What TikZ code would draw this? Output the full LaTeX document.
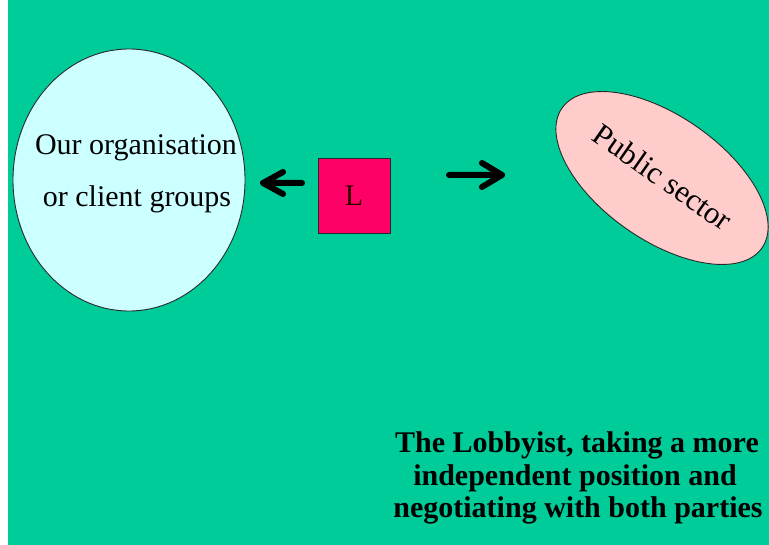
\documentclass[tikz,border=0pt]{standalone}
\usepackage{fontspec}
\setmainfont{Liberation Serif}
\usetikzlibrary{shapes.geometric,arrows.meta}
\definecolor{bggreen}{RGB}{0,204,153}
\definecolor{lcyan}{RGB}{204,255,255}
\definecolor{lpink}{RGB}{255,204,204}
\definecolor{lred}{RGB}{255,0,102}
\definecolor{edge}{RGB}{40,40,40}
\tikzset{
  blob/.style={ellipse,draw=edge,line width=0.9pt,inner sep=0pt},
  lbl/.style={inner sep=0pt,anchor=base,font=\fontsize{30}{30}\selectfont},
  bodytxt/.style={inner sep=0pt,anchor=base,font=\fontsize{30}{30}\selectfont\bfseries},
  bigarrow/.style={line width=6pt,line cap=round,line join=round,draw=black}
}
\begin{document}
\begin{tikzpicture}[x=1pt,y=-1pt]
\useasboundingbox (0,0) rectangle (769,545);
\fill[white] (0,0) rectangle (769,545);
\fill[bggreen] (8,0) rectangle (769,545);
% left ellipse
\node[blob,fill=lcyan,minimum width=232pt,minimum height=262pt] (org) at (129,180) {};
\node[lbl] (orgA) at (136,155) {Our organisation};
\node[lbl] (orgB) at (137,207) {or client groups};
% lobbyist box
\node[draw=edge,line width=0.9pt,fill=lred,minimum width=72pt,minimum height=75pt,inner sep=0pt,
      font=\fontsize{30}{30}\selectfont,text=black!80!red] (L) at (354,195.5) {L};
% public sector
\node[blob,fill=lpink,minimum width=244pt,minimum height=124pt,rotate=-35] (pub) at (662,178) {};
\node[inner sep=0pt,rotate=-35,font=\fontsize{31}{31}\selectfont] (pubT) at (663,177) {Public sector};
% arrows
\coordinate (la1) at (302,183);
\coordinate (la2) at (263,183);
\coordinate (ra1) at (449,175);
\coordinate (ra2) at (502,175);
\draw[bigarrow] (la1) -- (la2) -- ++(20,-11) (la2) -- ++(20,11);
\draw[bigarrow] (ra1) -- (ra2) -- ++(-20,-12) (ra2) -- ++(-20,12);
% bottom text
\node[bodytxt] (t1) at (577,453) {The Lobbyist, taking a more};
\node[bodytxt] (t2) at (575,485) {independent position and};
\node[bodytxt] (t3) at (578,517) {negotiating with both parties};
\end{tikzpicture}
\end{document}
